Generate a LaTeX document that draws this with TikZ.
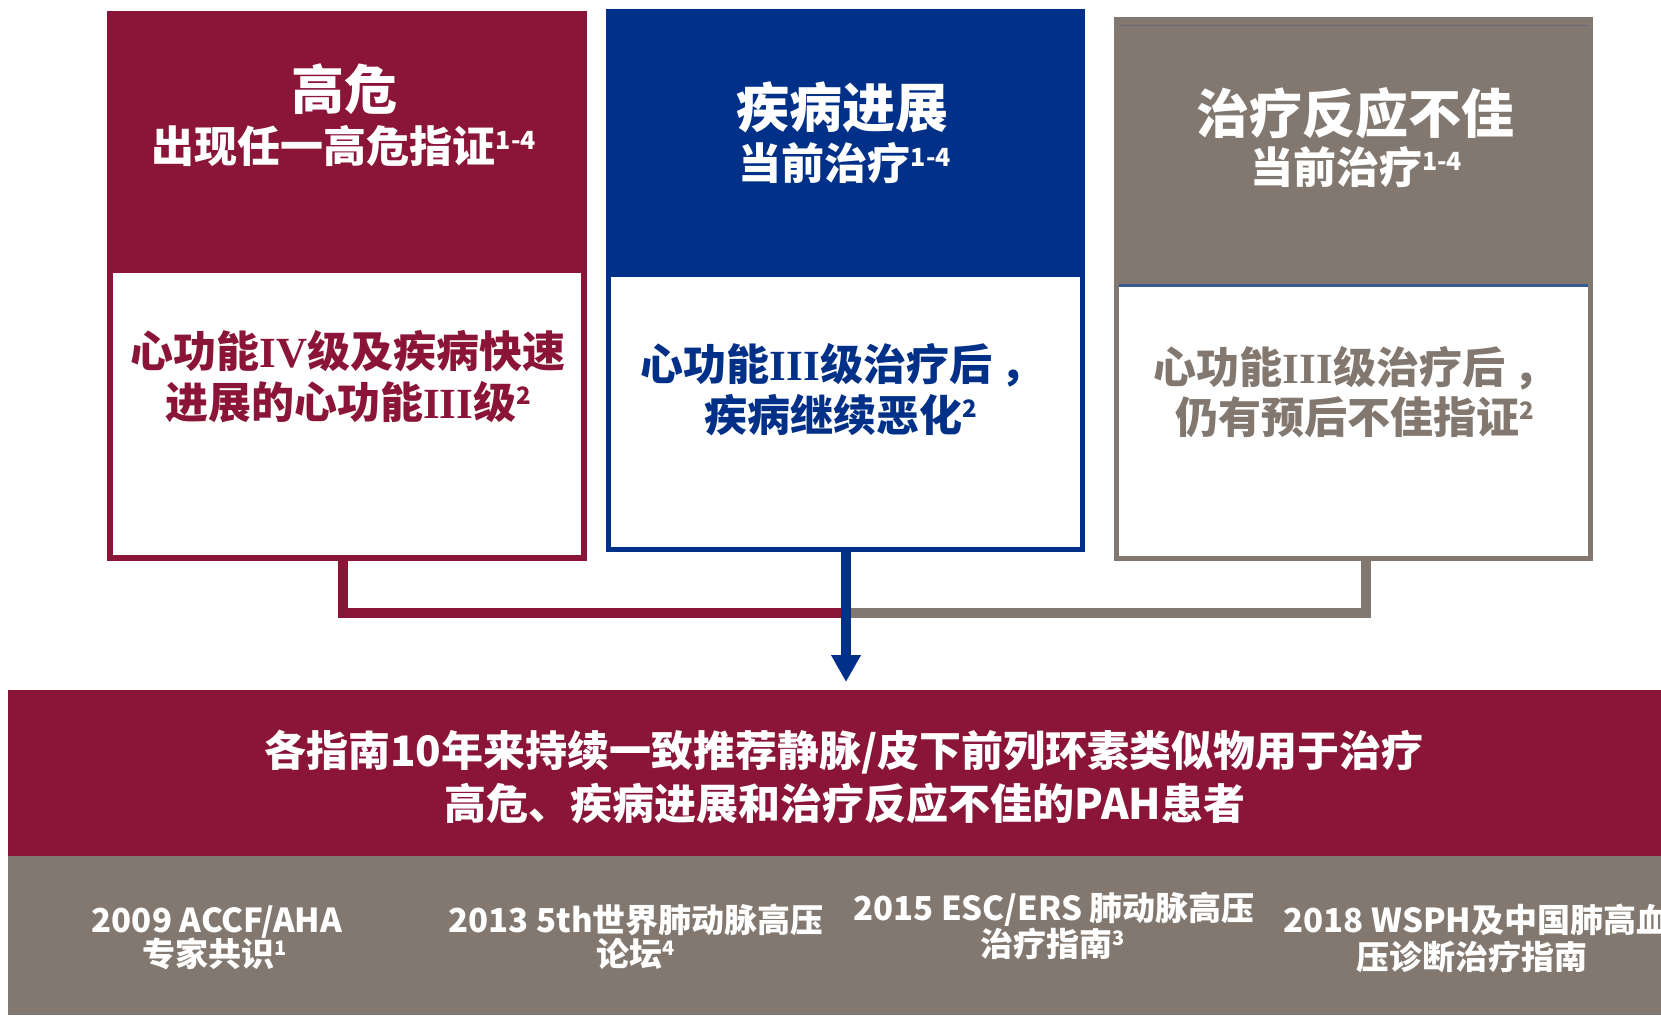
\documentclass[tikz,border=0pt]{standalone}
\usepackage{fontspec}
\setmainfont{Noto Sans CJK SC}
\newfontfamily\rmser{Liberation Serif}
\usetikzlibrary{arrows.meta}
\definecolor{pahred}{RGB}{139,21,56}
\definecolor{pahblue}{RGB}{0,48,135}
\definecolor{pahgrey}{RGB}{130,120,111}
\definecolor{pahline}{RGB}{58,90,150}
\newcommand\upidx[3]{\raisebox{#1pt}{\fontsize{#2pt}{#2pt}\selectfont #3}}
\newcommand\fs[1]{\fontsize{#1pt}{#1pt}\selectfont}
\tikzset{
  boxframe/.style={draw=#1, fill=white, rectangle, inner sep=0pt, anchor=north west},
  band/.style={fill=#1, rectangle, inner sep=0pt, anchor=north west, minimum width=1653pt},
  hdrbig/.style={text=white, font=\fs{53}\bfseries, anchor=base, inner sep=0pt},
  hdrsmall/.style={text=white, font=\fs{43}\bfseries, anchor=base, inner sep=0pt},
  bodytxt/.style={text=#1, font=\fs{43}\bfseries, anchor=base, inner sep=0pt},
  bandtxt/.style={text=white, font=\fs{42}\bfseries, anchor=base, inner sep=0pt},
  reftxt/.style={text=white, font=\fs{33}\bfseries, anchor=base, inner sep=0pt},
  conn/.style={draw=#1, line width=10pt},
}
\begin{document}
\begin{tikzpicture}[x=1pt,y=-1pt]
\useasboundingbox (0,0) rectangle (1661,1015);
\clip (0,0) rectangle (1661,1015);
\fill[white] (0,0) rectangle (1661,1015);

% boxes
\node[boxframe=pahred, line width=6pt, minimum width=474pt, minimum height=544pt] (box1) at (107,11) {};
\fill[pahred] (107,11) rectangle (587,273);
\node[boxframe=pahblue, line width=5pt, minimum width=474pt, minimum height=538pt] (box2) at (606,9) {};
\fill[pahblue] (606,9) rectangle (1085,277);
\node[boxframe=pahgrey, line width=5pt, minimum width=474pt, minimum height=539pt] (box3) at (1114,17) {};
\fill[pahgrey] (1114,17) rectangle (1593,284);
\draw[pahline, line width=3pt] (1119,285.5) -- (1588,285.5);
\draw[pahline!40!pahgrey, line width=1pt] (1119,25) -- (1588,25);

% header texts
\node[hdrbig] (t1a) at (344,109) {高危};
\node[hdrsmall] (t1b) at (344,162) {出现任一高危指证\upidx{13}{25}{1-4}};
\node[hdrbig] (t2a) at (842,127) {疾病进展};
\node[hdrsmall] (t2b) at (845,179) {当前治疗\upidx{13}{25}{1-4}};
\node[hdrbig] (t3a) at (1355,133) {治疗反应不佳};
\node[hdrsmall] (t3b) at (1356,183) {当前治疗\upidx{13}{25}{1-4}};

% body texts
\node[bodytxt=pahred] (b1a) at (348,367) {心功能{\rmser IV}级及疾病快速};
\node[bodytxt=pahred] (b1b) at (348,418) {进展的心功能{\rmser III}级\upidx{14}{24}{2}};
\node[bodytxt=pahblue] (b2a) at (842,380) {心功能{\rmser III}级治疗后\hspace{8pt}，};
\node[bodytxt=pahblue] (b2b) at (841,431) {疾病继续恶化\upidx{14}{24}{2}};
\node[bodytxt=pahgrey] (b3a) at (1355,383) {心功能{\rmser III}级治疗后\hspace{8pt}，};
\node[bodytxt=pahgrey] (b3b) at (1355,433) {仍有预后不佳指证\upidx{14}{24}{2}};

% bands
\node[band=pahred, minimum height=166pt] (band) at (8,690) {};
\node[band=pahgrey, minimum height=159pt] (gband) at (8,856) {};

% connectors
\coordinate (join) at (846,613);
\coordinate (tipc) at (846,682);
\draw[conn=pahred] ([xshift=-4pt,yshift=3pt]box1.south) |- (join);
\draw[conn=pahgrey] ([xshift=12.5pt,yshift=3pt]box3.south) |- (join);
\draw[conn=pahblue, -{Triangle[width=28pt,length=27pt]}] ([yshift=3pt]box2.south -| tipc) -- (tipc);

% band texts
\node[bandtxt] (m1) at (844,766) {各指南10年来持续一致推荐静脉/皮下前列环素类似物用于治疗};
\node[bandtxt] (m2) at (845,819) {高危、疾病进展和治疗反应不佳的PAH患者};

% reference texts
\node[reftxt] (r1a) at (217,932) {2009 ACCF/AHA};
\node[reftxt] (r1b) at (215,966) {专家共识\upidx{11}{20}{1}};
\node[reftxt] (r2a) at (636,932) {2013 5th世界肺动脉高压};
\node[reftxt] (r2b) at (636,966) {论坛\upidx{11}{20}{4}};
\node[reftxt] (r3a) at (1054,920) {2015 ESC/ERS 肺动脉高压};
\node[reftxt] (r3b) at (1053,956) {治疗指南\upidx{11}{20}{3}};
\node[reftxt, anchor=base west] (r4a) at (1283,932) {2018 WSPH及中国肺高血};
\node[reftxt] (r4b) at (1472,969) {压诊断治疗指南};
\end{tikzpicture}
\end{document}
